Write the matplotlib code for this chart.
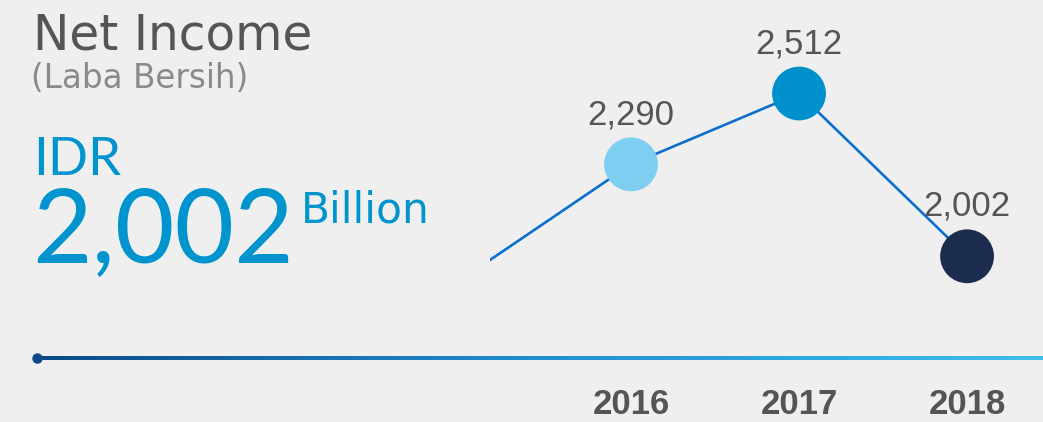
import numpy as np
import matplotlib
matplotlib.use('Agg')
from matplotlib import pyplot as plt
from matplotlib.colors import LinearSegmentedColormap

# net income, IDR billion
years = [2016, 2017, 2018]
income = [2290, 2512, 2002]
labels = ['2,290', '2,512', '2,002']
dot_colors = ['#7dcef1', '#0091cc', '#1b2c4e']
# the trend line comes in from the previous year at the left
prev_year = 2015
prev_income = 1933

W, H = 1043, 422
bg = '#efefef'
blue = '#0094cf'

fig = plt.figure(figsize=(W / 100, H / 100), dpi=100, facecolor=bg)

def fx(px):
    return px / W

def fy(py):
    return 1 - py / H

# headline block on the left
fig.text(fx(33), fy(50), 'Net Income', family='DejaVu Sans', fontsize=35,
         color='#555555', va='baseline')
fig.text(fx(31), fy(88), '(Laba Bersih)', family='DejaVu Sans', fontsize=23.5,
         color='#8a8a8a', va='baseline')
fig.text(fx(33), fy(175), 'IDR', family='Lato', fontsize=38,
         color=blue, va='baseline')
fig.text(fx(32), fy(262), labels[-1], family='Lato', fontsize=74,
         color=blue, va='baseline')
fig.text(fx(301), fy(223), 'Billion', family='DejaVu Sans', fontsize=30.5,
         color=blue, va='baseline')

# gradient rule along the bottom
deco = fig.add_axes([0, 0, 1, 1])
deco.set_xlim(0, W)
deco.set_ylim(H, 0)
deco.axis('off')
deco.patch.set_alpha(0)
cmap = LinearSegmentedColormap.from_list('rule', ['#0c4a86', '#1f8fd2', '#3fbdec'])
deco.imshow(np.linspace(0, 1, 256)[None, :], cmap=cmap, aspect='auto',
            extent=(37, W, 359.6, 356.4), interpolation='bilinear')
deco.plot([37], [358], 'o', color='#0c4a86', markersize=6.5)
deco.set_xlim(0, W)
deco.set_ylim(H, 0)

# trend line with year dots
ax = fig.add_axes([fx(490), fy(330), fx(1043) - fx(490), fy(0) - fy(330)])
ax.set_xlim(2015.1607, 2018.452)
ax.set_ylim(1771, 2805)
ax.patch.set_alpha(0)
for s in ax.spines.values():
    s.set_visible(False)

ax.plot([prev_year] + years, [prev_income] + income, color='#0a6fcf',
        lw=1.9, zorder=2, solid_capstyle='butt')
ax.scatter(years, income, s=1500, c=dot_colors, edgecolors='none',
           zorder=3, clip_on=False)
for x, v, t in zip(years, income, labels):
    ax.annotate(t, (x, v), xytext=(0, 29), textcoords='offset points',
                ha='center', va='baseline', family='Liberation Sans',
                fontsize=25, color='#555555', annotation_clip=False)

ax.set_yticks([])
ax.set_xticks(years)
ax.set_xticklabels([str(y) for y in years], family='Liberation Sans',
                   fontweight='bold', fontsize=25, color='#555555')
ax.tick_params(axis='x', length=0, pad=42)

fig.savefig('out.png', dpi=100, facecolor=bg)
